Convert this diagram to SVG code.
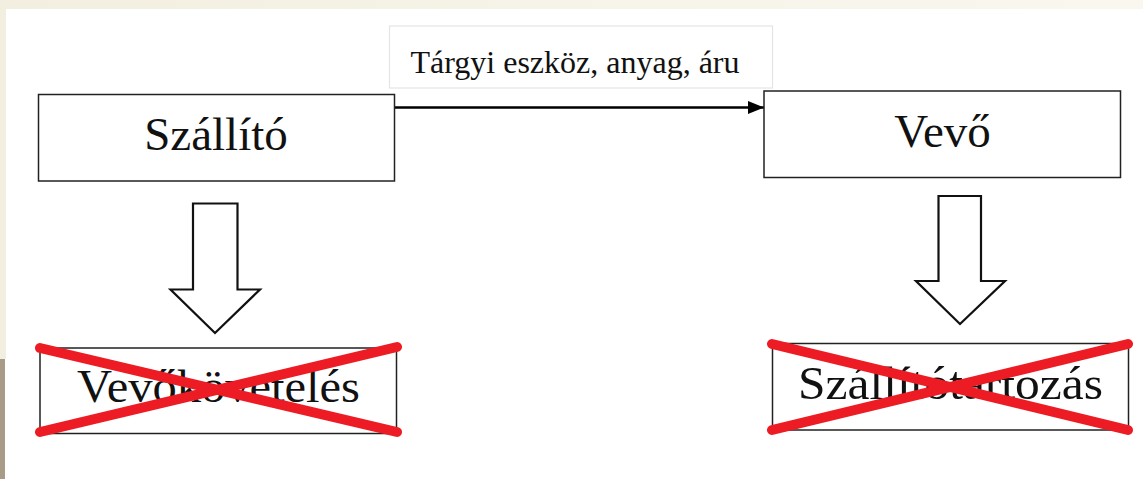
<svg xmlns="http://www.w3.org/2000/svg" width="1143" height="479" viewBox="0 0 1143 479">
<style>
.box{fill:#fff;stroke:#222;stroke-width:1.5}
.lbl{font-family:"Liberation Serif","Times New Roman",serif;fill:#111;text-anchor:middle}
.big{font-size:47px}
.small{font-size:32px}
.fat{fill:#fff;stroke:#111;stroke-width:2.2;stroke-linejoin:miter}
.cross{stroke:#ed1c24;stroke-width:10;stroke-linecap:round}
</style>
<defs>
<linearGradient id="topg" x1="0" x2="1" y1="0" y2="0">
<stop offset="0" stop-color="#f2efe0"/>
<stop offset="0.6" stop-color="#f7f5ea"/>
<stop offset="1" stop-color="#f9f7ee"/>
</linearGradient>
<marker id="ah" viewBox="0 0 16 13" refX="16" refY="6.5" markerWidth="16" markerHeight="13" markerUnits="userSpaceOnUse" orient="auto">
<path d="M0,0 L16,6.5 L0,13 z" fill="#000"/>
</marker>
</defs>
<rect x="0" y="0" width="1143" height="479" fill="#fff"/>
<rect x="0" y="0" width="1143" height="9" fill="url(#topg)"/>
<rect x="0" y="0" width="6" height="359" fill="#f2efe0"/>
<rect x="0" y="359" width="5" height="120" fill="#a89c88"/>

<g id="connectors">
<line x1="395" y1="107.5" x2="764" y2="107.5" stroke="#000" stroke-width="2.5" marker-end="url(#ah)"/>
</g>

<g id="label-box">
<rect x="389.5" y="26" width="383" height="62" fill="#fff" stroke="#e4e4e4" stroke-width="1.2"/>
<text class="lbl small" x="575" y="73" textLength="329" lengthAdjust="spacingAndGlyphs">Tárgyi eszköz, anyag, áru</text>
</g>

<g id="szallito">
<rect class="box" x="38.5" y="94.5" width="356" height="86.5"/>
<text class="lbl big" x="216" y="150">Szállító</text>
</g>

<g id="vevo">
<rect class="box" x="764" y="91" width="356.5" height="86.5"/>
<text class="lbl big" x="942.5" y="147">Vevő</text>
</g>

<g id="arrow-left">
<polygon class="fat" points="193,203.5 237.5,203.5 237.5,289.5 260,289.5 215,333 170.5,289.5 193,289.5"/>
</g>

<g id="arrow-right">
<polygon class="fat" points="938.5,196 981,196 981,281 1005,281 960,324 916,281 938.5,281"/>
</g>

<g id="vevokovetelés">
<rect class="box" x="40" y="348" width="356.5" height="85.5"/>
<text class="lbl big" x="218.5" y="402" textLength="283" lengthAdjust="spacingAndGlyphs">Vevőkövetelés</text>
<line class="cross" x1="40" y1="348" x2="397" y2="432"/>
<line class="cross" x1="40" y1="432" x2="397" y2="347"/>
</g>

<g id="szallitotartozas">
<rect class="box" x="772.5" y="343.5" width="356" height="86.5"/>
<text class="lbl big" x="950.5" y="398.5" textLength="305" lengthAdjust="spacingAndGlyphs">Szállítótartozás</text>
<line class="cross" x1="772" y1="344" x2="1128" y2="430"/>
<line class="cross" x1="772" y1="430" x2="1128" y2="344"/>
</g>
</svg>
